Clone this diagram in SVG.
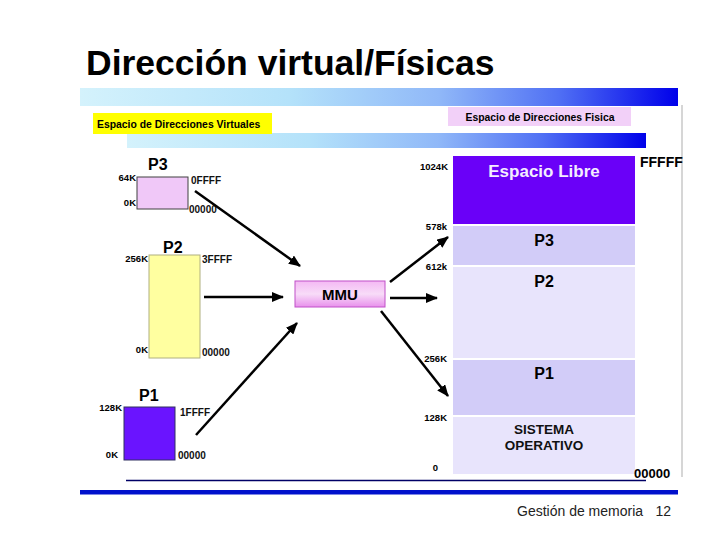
<svg xmlns="http://www.w3.org/2000/svg" width="720" height="540" viewBox="0 0 720 540">
<defs>
<linearGradient id="barGrad" x1="0" y1="0" x2="1" y2="0">
<stop offset="0" stop-color="#d4f2fc"/>
<stop offset="0.35" stop-color="#b4e2fa"/>
<stop offset="0.6" stop-color="#90b8f8"/>
<stop offset="0.8" stop-color="#5070f4"/>
<stop offset="1" stop-color="#0000ea"/>
</linearGradient>
<linearGradient id="mmuGrad" x1="0" y1="0" x2="0" y2="1">
<stop offset="0" stop-color="#f4b8f4"/>
<stop offset="0.5" stop-color="#f8dcf8"/>
<stop offset="1" stop-color="#e890ec"/>
</linearGradient>
<marker id="ah" markerUnits="userSpaceOnUse" markerWidth="12" markerHeight="10" refX="11" refY="5" orient="auto">
<path d="M0,0 L12,5 L0,10 Z" fill="#000"/>
</marker>
<style>
.t{font-family:"Liberation Sans",Arial,sans-serif;}
.b{font-family:"Liberation Sans",Arial,sans-serif;font-weight:bold;}
.sm{font-family:"Liberation Sans",Arial,sans-serif;font-weight:bold;font-size:9.5px;fill:#000;}
.hx{font-family:"Liberation Sans",Arial,sans-serif;font-weight:bold;font-size:10px;fill:#111;}
.arr{stroke:#000;stroke-width:2.5;fill:none;marker-end:url(#ah);}
.pl{font-family:"Liberation Sans",Arial,sans-serif;font-weight:bold;font-size:16px;fill:#000;}
</style>
</defs>
<rect width="720" height="540" fill="#fff"/>
<g id="title">
<text class="b" x="86" y="75" font-size="35.5" fill="#000">Dirección virtual/Físicas</text>
</g>
<g id="decor">
<rect x="80" y="88" width="598" height="18" fill="url(#barGrad)"/>
<rect x="127" y="133" width="519" height="15" fill="url(#barGrad)"/>
<line x1="682" y1="105" x2="682" y2="477" stroke="#c8c8c8" stroke-width="1.5"/>
<line x1="126" y1="480.5" x2="646" y2="480.5" stroke="#000066" stroke-width="1.5"/>
<rect x="80" y="490" width="598" height="4.5" fill="#0010cc"/>
</g>
<g id="label-virtual">
<rect x="93" y="113" width="179" height="21" fill="#ffff00"/>
<text class="b" x="97" y="127.5" font-size="10.4" fill="#000">Espacio de Direcciones Virtuales</text>
</g>
<g id="label-fisica">
<rect x="448" y="107" width="183" height="19" fill="#f2d0f8"/>
<text class="b" x="540" y="120.5" font-size="10.4" fill="#000" text-anchor="middle">Espacio de Direcciones Fisica</text>
</g>
<g id="virt-p3">
<rect x="137" y="177" width="51" height="32" fill="#f0c8f8" stroke="#404040" stroke-width="1"/>
<text class="pl" x="148" y="170">P3</text>
<text class="sm" x="136" y="181" text-anchor="end">64K</text>
<text class="sm" x="136" y="206" text-anchor="end">0K</text>
<text class="hx" x="191" y="184">0FFFF</text>
<text class="hx" x="189" y="213">00000</text>
</g>
<g id="virt-p2">
<rect x="149" y="255" width="51" height="103" fill="#ffffa0" stroke="#b0b080" stroke-width="1"/>
<text class="pl" x="163" y="253">P2</text>
<text class="sm" x="148" y="262" text-anchor="end">256K</text>
<text class="sm" x="148" y="353" text-anchor="end">0K</text>
<text class="hx" x="202" y="263">3FFFF</text>
<text class="hx" x="202" y="356">00000</text>
</g>
<g id="virt-p1">
<rect x="124" y="407" width="51" height="53" fill="#6a14ff" stroke="#303060" stroke-width="1"/>
<text class="pl" x="139" y="401">P1</text>
<text class="sm" x="122" y="411" text-anchor="end">128K</text>
<text class="sm" x="118" y="458" text-anchor="end">0K</text>
<text class="hx" x="180" y="416">1FFFF</text>
<text class="hx" x="178" y="459">00000</text>
</g>
<g id="mmu">
<rect x="295" y="281" width="90" height="26" fill="url(#mmuGrad)" stroke="#c050c8" stroke-width="1"/>
<text class="b" x="340" y="299.5" font-size="15" fill="#000" text-anchor="middle">MMU</text>
</g>
<g id="phys-libre">
<rect x="453" y="156" width="182" height="68" fill="#6a00f8"/>
<text class="b" x="544" y="177" font-size="17" fill="#f4ecff" text-anchor="middle">Espacio Libre</text>
</g>
<g id="phys-p3">
<rect x="453" y="226" width="182" height="39" fill="#d2ccf8"/>
<text class="pl" x="544" y="246" text-anchor="middle">P3</text>
</g>
<g id="phys-p2">
<rect x="453" y="267" width="182" height="91" fill="#e8e4fc"/>
<text class="pl" x="544" y="287" text-anchor="middle">P2</text>
</g>
<g id="phys-p1">
<rect x="453" y="360" width="182" height="55" fill="#d2ccf8"/>
<text class="pl" x="544" y="379" text-anchor="middle">P1</text>
</g>
<g id="phys-so">
<rect x="453" y="417" width="182" height="57" fill="#e8e4fc"/>
<text class="b" x="544" y="434" font-size="13.5" fill="#111" text-anchor="middle">SISTEMA</text>
<text class="b" x="544" y="450" font-size="13.5" fill="#111" text-anchor="middle">OPERATIVO</text>
</g>
<g id="phys-labels">
<text class="sm" x="448" y="170" text-anchor="end">1024K</text>
<text class="sm" x="447" y="230" text-anchor="end">578k</text>
<text class="sm" x="447" y="270" text-anchor="end">612k</text>
<text class="sm" x="447" y="362" text-anchor="end">256K</text>
<text class="sm" x="447" y="421" text-anchor="end">128K</text>
<text class="sm" x="438" y="471" text-anchor="end">0</text>
<text class="b" x="640" y="167" font-size="14" fill="#000">FFFFF</text>
<text class="b" x="634" y="478" font-size="13" fill="#000">00000</text>
</g>
<g id="connectors">
<line class="arr" x1="195" y1="191" x2="300" y2="266"/>
<line class="arr" x1="204" y1="297" x2="283" y2="297"/>
<line class="arr" x1="196" y1="435" x2="297" y2="323"/>
<line class="arr" x1="390" y1="282" x2="448" y2="237"/>
<line class="arr" x1="390" y1="298" x2="437" y2="298"/>
<line class="arr" x1="381" y1="311" x2="448" y2="396"/>
</g>
<g id="footer">
<text class="t" x="517" y="516" font-size="14" fill="#222">Gestión de memoria</text>
<text class="t" x="671" y="516" font-size="14" fill="#222" text-anchor="end">12</text>
</g>
</svg>
